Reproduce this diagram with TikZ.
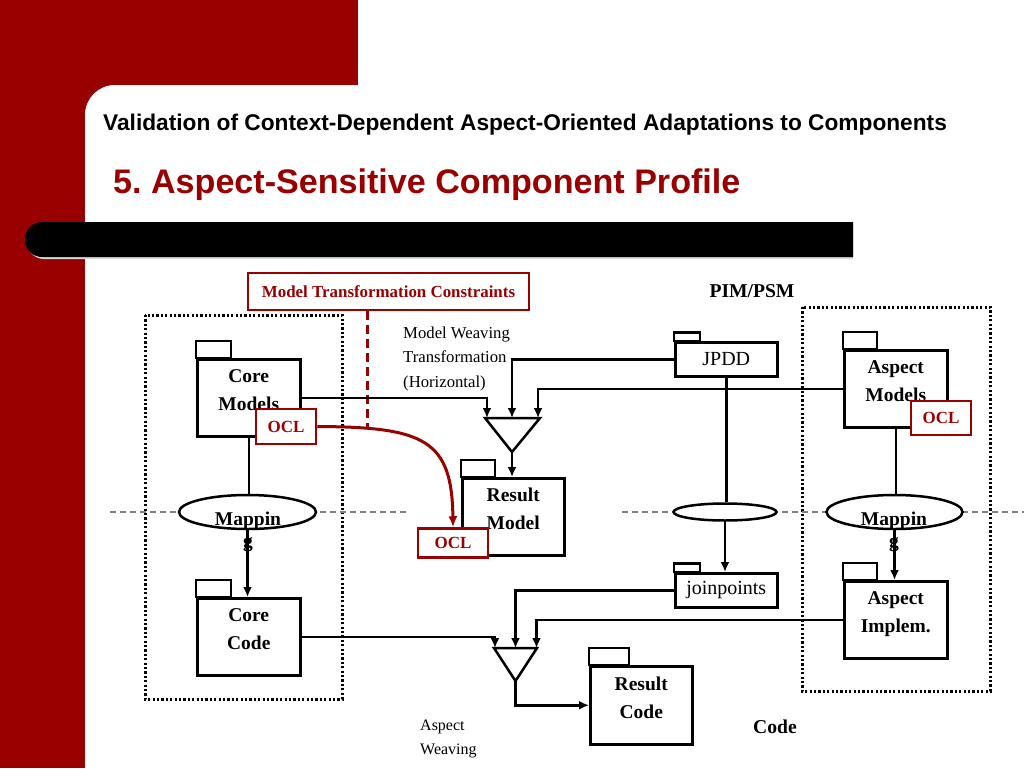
\documentclass[tikz,border=0pt]{standalone}
\usepackage{fontspec}
\setmainfont{Liberation Serif}
\setsansfont{Liberation Sans}
\usetikzlibrary{arrows.meta,shapes.geometric,positioning}
\definecolor{slidered}{HTML}{990000}
\newcommand{\fsz}[2]{\fontsize{#1}{#2}\selectfont}
\frenchspacing

\begin{document}
\begin{tikzpicture}[x=1pt,y=-1pt]

\tikzset{
  package/.style={draw, line width=2.5pt, fill=white, inner sep=0pt, align=center,
    minimum width=103pt, minimum height=77pt, anchor=north west,
    font=\bfseries\fsz{19.5}{28}, text depth=16pt},
  flatpackage/.style={draw, line width=2.5pt, fill=white, inner sep=0pt,
    minimum width=102pt, minimum height=34pt, anchor=north west,
    font=\fsz{20}{24}},
  pkgtab/.style={draw, line width=2.5pt, fill=white},
  mapping/.style={ellipse, draw, line width=2.5pt, fill=white, inner sep=0pt},
  maptext/.style={anchor=north, inner sep=0pt, align=center, font=\bfseries\fsz{19.5}{22}},
  ocl/.style={draw=slidered, line width=2.5pt, fill=white, text=slidered,
    inner sep=0pt, font=\bfseries\fsz{17}{20}},
  conn/.style={line width=2.5pt, -{Latex[length=10pt,width=9pt]}},
  plain/.style={line width=2.5pt},
  group/.style={line width=3pt, dash pattern=on 2.2pt off 2.2pt},
  level/.style={line width=1.8pt, gray, dash pattern=on 6pt off 4pt},
  note/.style={inner sep=0pt, align=left, font=\fsz{16.7}{24.5}}
}

\clip (0,0) rectangle (1024,768);

% slide background
\fill[white] (0,0) rectangle (1024,768);
\fill[slidered] (0,0) rectangle (358,768);
\fill[white, rounded corners=30pt] (85,85) rectangle (1100,800);
\fill[black!15] (853,259) -- (853,224) [rounded corners=17pt] -- (27,224) -- (27,259) [sharp corners] -- cycle;
\fill[black] (853,257) -- (853,222) [rounded corners=17pt] -- (25,222) -- (25,257) [sharp corners] -- cycle;

\node[anchor=base west, inner sep=0pt, font=\sffamily\bfseries\fsz{22.7}{27}] (subtitle) at (103,130)
  {Validation of Context-Dependent Aspect-Oriented Adaptations to Components};
\node[anchor=base west, inner sep=0pt, text=slidered, font=\sffamily\bfseries\fsz{34.1}{40}] (title) at (113,193)
  {5. Aspect-Sensitive Component Profile};

% groups and levels
\draw[group] (145,315) rectangle (342,699);
\draw[group] (802,307) rectangle (990,691);
\draw[level] (110,512) -- (410,512);
\draw[level] (622,512) -- (1024,512);

\node[anchor=base, inner sep=0pt, font=\bfseries\fsz{19.6}{24}] (pim) at (752,297) {PIM/PSM};
\node[anchor=base, inner sep=0pt, font=\bfseries\fsz{19.6}{24}] (code) at (775,733) {Code};

\node[draw=slidered, line width=2.5pt, fill=white, text=slidered, inner sep=0pt,
  minimum width=281pt, minimum height=37pt, font=\bfseries\fsz{16.9}{20}] (mtc) at (388.5,291.5)
  {Model Transformation Constraints};
\coordinate (mtcend) at (367,427);
\draw[slidered, line width=3pt, dash pattern=on 9pt off 5pt] (mtc.south -| mtcend) -- (mtcend);

\node[note, anchor=north west] (mwnote) at (403,326.5) {Model Weaving\\Transformation\\(Horizontal)};
\node[note, anchor=north west, font=\fsz{16}{24}] (awnote) at (420,720) {Aspect\\Weaving};

% packages
\node[package] (coremod) at (196,358) {Core\\Models};
\draw[pkgtab] (coremod.north west) rectangle ++(35,-17);
\node[package, minimum width=102pt] (resmod) at (461,477) {Result\\Model};
\draw[pkgtab] (resmod.north west) rectangle ++(34,-17);
\node[package] (corecode) at (196,597) {Core\\Code};
\draw[pkgtab] (corecode.north west) rectangle ++(35,-17);
\node[package] (aspmod) at (843,349) {Aspect\\Models};
\draw[pkgtab] (aspmod.north west) rectangle ++(34,-17);
\node[package] (aspimp) at (843,580) {Aspect\\Implem.};
\draw[pkgtab] (aspimp.north west) rectangle ++(34,-17);
\node[package, minimum width=102pt, minimum height=78pt] (rescode) at (589,665) {Result\\Code};
\draw[pkgtab] (rescode.north west) rectangle ++(40,-17);
\node[flatpackage] (jpdd) at (674,341) {JPDD};
\draw[pkgtab] (jpdd.north west) rectangle ++(26,-8.5);
\node[flatpackage] (joinpts) at (674,572) {joinpoints};
\draw[pkgtab] (joinpts.north west) rectangle ++(26,-8.5);

% mappings
\node[mapping, minimum width=137pt, minimum height=34pt] (mapl) at (247.5,512) {};
\node[mapping, minimum width=103pt, minimum height=17pt] (mapm) at (725,512) {};
\node[mapping, minimum width=136pt, minimum height=34pt] (mapr) at (894.5,512) {};

% weavers
\coordinate (mwl) at (487,418);
\coordinate (mwc) at (512,418);
\coordinate (mwr) at (538,418);
\coordinate (mwtip) at (512,452);
\draw[plain, line join=miter] (485,418) -- (540,418) -- (mwtip) -- cycle;
\coordinate (awl) at (495,648);
\coordinate (awc) at (515.5,648);
\coordinate (awr) at (536.5,648);
\coordinate (awtip) at (515.5,681);
\draw[plain, line join=miter] (494,648) -- (537,648) -- (awtip) -- cycle;

% connectors
\draw[conn] (coremod.east) -| (mwl);
\draw[conn] (jpdd.west) -| (mwc);
\draw[conn] (aspmod.west) -| (mwr);
\draw[conn] (mwtip) -- (mwtip |- resmod.north);
\draw[plain] (coremod.south) -- (coremod.south |- mapl.north);
\draw[conn] (mapl.south) -- (mapl.south |- corecode.north);
\draw[plain] (jpdd.south) -- (jpdd.south |- mapm.north);
\draw[conn] (mapm.south) -- (mapm.south |- joinpts.north);
\draw[plain] (aspmod.south) -- (aspmod.south |- mapr.north);
\draw[conn] (mapr.south) -- (mapr.south |- aspimp.north);
\draw[conn] (corecode.east) -| (awl);
\draw[conn] (joinpts.west) -| (awc);
\draw[conn] (aspimp.west) -| (awr);
\draw[conn] (awtip) |- (rescode.west);

\node[maptext] (mapltext) at (248,511.5) {Mappin\\g};
\node[maptext] (maprtext) at (894,511.5) {Mappin\\g};

% constraints
\node[ocl, minimum width=60pt, minimum height=35pt] (ocla) at (286,426.5) {OCL};
\node[ocl, minimum width=60pt, minimum height=34pt] (oclb) at (941,418) {OCL};
\node[ocl, minimum width=70pt, minimum height=29pt] (oclc) at (453,543) {OCL};
\draw[slidered, line width=3pt, -{Latex[length=11pt,width=9pt]}]
  (ocla.east) .. controls (425,427) and (452,440) .. (oclc.north);

\end{tikzpicture}
\end{document}
